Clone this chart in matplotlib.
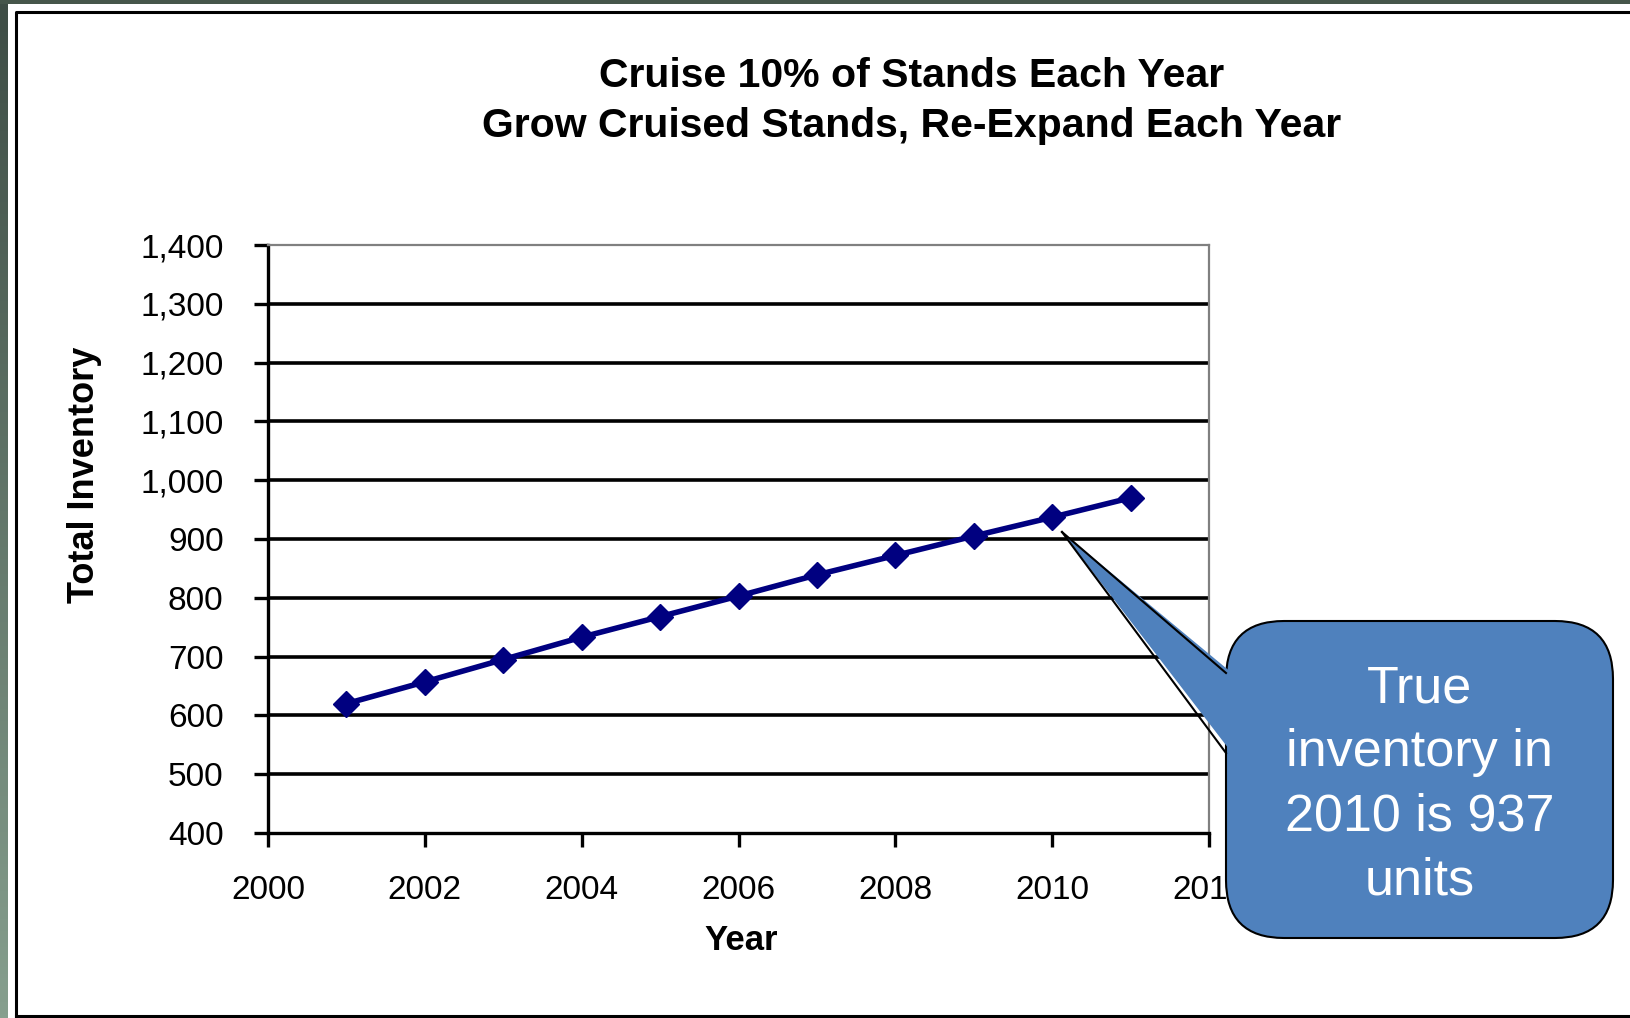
import numpy as np
import matplotlib.pyplot as plt
from matplotlib.patches import FancyBboxPatch, Polygon, Rectangle
from matplotlib.colors import LinearSegmentedColormap
from matplotlib.ticker import FuncFormatter

# data
years = [2001, 2002, 2003, 2004, 2005, 2006, 2007, 2008, 2009, 2010, 2011]
inventory = [620, 657, 695, 733, 768, 803, 839, 872, 905, 937, 970]
x_ticks = [2000, 2002, 2004, 2006, 2008, 2010, 2012]
y_ticks = [400, 500, 600, 700, 800, 900, 1000, 1100, 1200, 1300, 1400]
title_lines = ["Cruise 10% of Stands Each Year",
               "Grow Cruised Stands, Re-Expand Each Year"]
callout_text = "True\ninventory in\n2010 is 937\nunits"

W, H = 1630, 1018
plt.rcParams['font.family'] = ['Liberation Sans', 'DejaVu Sans']

fig = plt.figure(figsize=(W / 100, H / 100), dpi=100, facecolor='#46564b')

# background: white slide area, gradient strip at left, black frame
bg = fig.add_axes([0, 0, 1, 1], zorder=0)
bg.add_patch(Rectangle((8, 4), W - 8, H - 4, facecolor='white', edgecolor='none'))
side = LinearSegmentedColormap.from_list('side', ['#3e4d45', '#869f8e'])
bg.imshow(np.linspace(0, 1, 256).reshape(-1, 1), cmap=side,
          extent=(0, 8, H, 4), aspect='auto')
bg.plot([15.5, 15.5, W + 5], [1015.5, 11.5, 11.5], color='black', lw=2.2)
bg.plot([15.5, W + 5], [1015.5, 1015.5], color='black', lw=2.2)
bg.set_xlim(0, W)
bg.set_ylim(H, 0)
bg.axis('off')

# main chart
ax = fig.add_axes([268 / W, 1 - 833 / H, (1209 - 268) / W, (833 - 245) / H], zorder=1)
ax.set_facecolor('white')
for y in y_ticks[1:-1]:
    ax.axhline(y, color='black', lw=2.6, zorder=1)
ax.plot(years, inventory, color='#000080', lw=4, marker='D', ms=13,
        zorder=3, clip_on=False)
ax.set_xlim(2000, 2012)
ax.set_ylim(400, 1400)
ax.set_xticks(x_ticks)
ax.set_yticks(y_ticks)
ax.yaxis.set_major_formatter(FuncFormatter(lambda v, p: f'{v:,.0f}'))
ax.spines['left'].set_linewidth(2.4)
ax.spines['bottom'].set_linewidth(2.4)
ax.spines['top'].set_color('#808080')
ax.spines['right'].set_color('#808080')
ax.spines['top'].set_linewidth(1.6)
ax.spines['right'].set_linewidth(1.6)
ax.tick_params(axis='both', direction='out', length=10, width=2.4,
               color='black', labelsize=24)
ax.tick_params(axis='x', pad=20)
ax.tick_params(axis='y', pad=22)

fig.text(912 / W, 1 - 87 / H, title_lines[0], ha='center', va='baseline',
         fontsize=29.5, fontweight='bold')
fig.text(912 / W, 1 - 137 / H, title_lines[1], ha='center', va='baseline',
         fontsize=29.5, fontweight='bold')
fig.text(85 / W, 1 - 475 / H, "Total Inventory", rotation=90, ha='center',
         va='center', fontsize=26, fontweight='bold')
fig.text(741 / W, 1 - 941 / H, "Year", ha='center', va='center',
         fontsize=25, fontweight='bold')

# callout on top
ov = fig.add_axes([0, 0, 1, 1], zorder=5)
ov.patch.set_alpha(0)
ov.set_xlim(0, W)
ov.set_ylim(H, 0)
ov.axis('off')
blue = '#4f81bd'
ov.add_patch(FancyBboxPatch((1226, 621), 387, 317,
                            boxstyle='round,pad=0,rounding_size=58',
                            facecolor=blue, edgecolor='black', lw=1.5, zorder=1))
tip = (1062, 532)
ov.add_patch(Polygon([tip, (1232, 673), (1232, 753)], closed=True,
                     facecolor=blue, edgecolor='none', zorder=2))
ov.plot([tip[0], 1226], [tip[1], 673], color='black', lw=1.5, zorder=3)
ov.plot([tip[0], 1226], [tip[1], 753], color='black', lw=1.5, zorder=3)
ov.text(1419.5, 785, callout_text, ha='center', va='center', color='white',
        fontsize=37.5, linespacing=1.4, zorder=4)

fig.savefig('out.png', dpi=100, facecolor=fig.get_facecolor())
